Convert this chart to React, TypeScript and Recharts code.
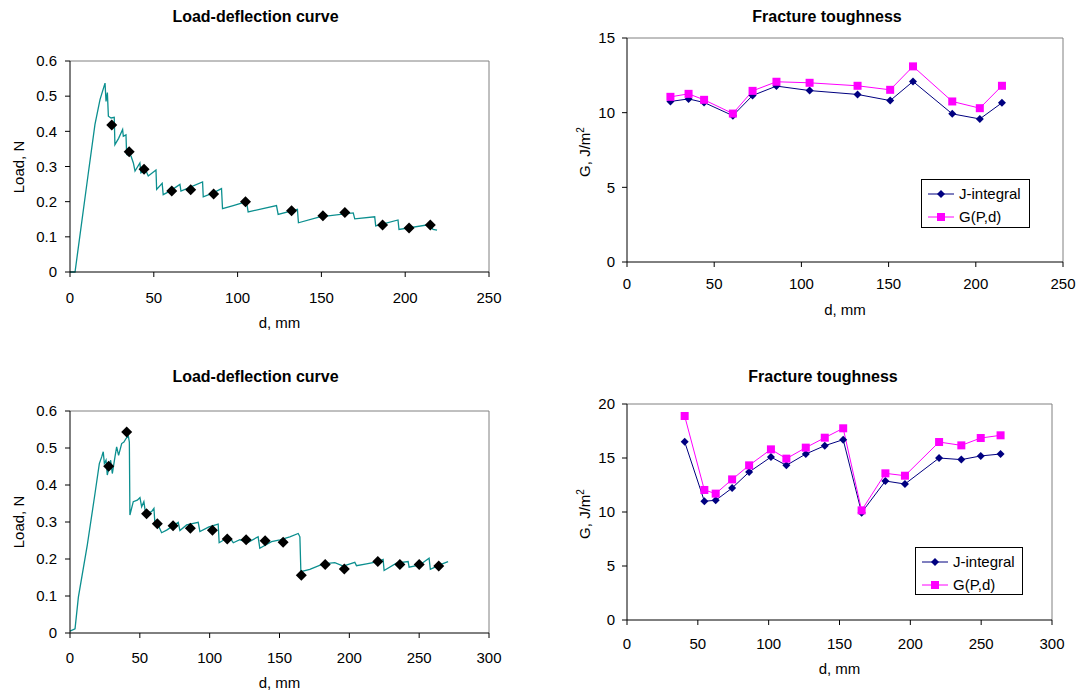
import React from 'react'
import { ComposedChart, LineChart, Line, Scatter, XAxis, YAxis, ReferenceLine, Legend } from 'recharts'

const FONT = '"Liberation Sans", Arial, Helvetica, sans-serif'
const TEAL = '#0B8F8F'
const NAVY = '#000080'
const MAGENTA = '#FF00FF'

// specimen 1: recorded load-deflection trace [d mm, load N]
const curve1: [number, number][] = [
  [0, 0], [3, 0], [10.9, 0.28], [14.9, 0.42], [17.9, 0.49], [20.9, 0.537], [21.5, 0.485],
  [22.3, 0.51], [22.9, 0.443], [24.5, 0.438], [26.4, 0.44], [26.8, 0.362], [29, 0.38],
  [31.4, 0.405], [31.8, 0.386], [33.4, 0.39], [33.8, 0.334], [36.4, 0.33], [37.8, 0.31],
  [38.8, 0.287], [41.7, 0.31], [42.3, 0.282], [45.1, 0.29], [46.7, 0.273], [51.3, 0.29],
  [51.7, 0.235], [55, 0.252], [55.6, 0.22], [59.6, 0.23], [65.6, 0.249], [66.2, 0.23],
  [79.1, 0.256], [79.5, 0.214], [85.5, 0.225], [90.4, 0.237], [91, 0.18], [97.4, 0.189],
  [105.3, 0.2], [106.3, 0.171], [123.2, 0.189], [124.2, 0.164], [135.7, 0.178], [136.3, 0.14],
  [149, 0.157], [169, 0.168], [169.9, 0.151], [181.8, 0.157], [182.4, 0.131], [195.7, 0.148],
  [196.3, 0.121], [214.6, 0.135], [216.6, 0.121], [219, 0.119],
]
const marks1D = [24.9, 35.3, 44.2, 60.7, 72, 85.7, 104.7, 132.2, 150.9, 164, 186.5, 202.3, 215]
const marks1Load = [0.418, 0.342, 0.292, 0.23, 0.234, 0.222, 0.2, 0.174, 0.16, 0.169, 0.134, 0.125, 0.134]
const jInt1 = [10.75, 10.92, 10.68, 9.8, 11.15, 11.78, 11.48, 11.22, 10.81, 12.09, 9.92, 9.58, 10.66]
const gPd1 = [11.06, 11.26, 10.86, 9.94, 11.46, 12.07, 12.0, 11.8, 11.53, 13.1, 10.75, 10.3, 11.8]

// specimen 2
const curve2: [number, number][] = [
  [0, 0.005], [3.6, 0.011], [6, 0.097], [12.4, 0.238], [17.9, 0.377], [21, 0.458], [22.7, 0.476],
  [23.8, 0.49], [24.6, 0.458], [25.8, 0.467], [26.7, 0.427], [29.1, 0.467], [30.3, 0.431],
  [32.2, 0.476], [33.4, 0.503], [34.8, 0.48], [37, 0.512], [38.6, 0.516], [40, 0.525],
  [41.7, 0.534], [42.5, 0.516], [42.9, 0.319], [45.3, 0.355], [48.2, 0.359], [50.1, 0.366],
  [51.3, 0.341], [52.9, 0.355], [54.1, 0.323], [58.4, 0.328], [60.1, 0.337], [60.8, 0.296],
  [63.2, 0.291], [65.6, 0.271], [69.2, 0.278], [77.5, 0.299], [78.7, 0.277], [83.5, 0.292],
  [91.8, 0.299], [93, 0.274], [99.5, 0.287], [106.1, 0.294], [106.8, 0.244], [114, 0.26],
  [116.9, 0.244], [121.6, 0.252], [127.6, 0.245], [134.7, 0.26], [135.9, 0.229], [144.3, 0.247],
  [150.3, 0.252], [157.4, 0.26], [163.4, 0.269], [164.6, 0.26], [165.3, 0.166], [171.7, 0.172],
  [181.3, 0.187], [189.6, 0.19], [195.6, 0.181], [203.9, 0.191], [205.1, 0.182], [212.3, 0.187],
  [220.6, 0.193], [224.2, 0.199], [224.9, 0.169], [233.7, 0.189], [242.1, 0.193], [242.8, 0.178],
  [250.4, 0.184], [257.1, 0.202], [258, 0.172], [264.7, 0.184], [270.7, 0.193],
]
const marks2D = [27.7, 40.6, 54.8, 62.5, 73.8, 86.2, 102, 112.6, 126.1, 139.7, 152.6, 165.6, 182.7, 196.4, 220.4, 236.2, 250, 264]
const marks2Load = [0.451, 0.543, 0.322, 0.295, 0.29, 0.283, 0.278, 0.254, 0.252, 0.249, 0.245, 0.156, 0.185, 0.173, 0.193, 0.185, 0.185, 0.181]
const jInt2 = [16.5, 11.0, 11.08, 12.22, 13.7, 15.09, 14.32, 15.37, 16.14, 16.7, 9.94, 12.87, 12.59, 15.0, 14.85, 15.19, 15.37]
const gPd2 = [18.89, 12.04, 11.7, 13.02, 14.32, 15.8, 14.94, 15.96, 16.88, 17.75, 10.15, 13.58, 13.36, 16.48, 16.17, 16.85, 17.1]
const tough2D = [40.7, 54.6, 62.6, 74.2, 86.2, 101.6, 112.5, 126.2, 139.6, 152.6, 165.6, 182.4, 196.2, 220.3, 236, 249.7, 263.7]

const seriesNames = ['J-integral', 'G(P,d)']
const loadTicks = [0, 0.1, 0.2, 0.3, 0.4, 0.5, 0.6]
const ticks250 = [0, 50, 100, 150, 200, 250]
const ticks300 = [0, 50, 100, 150, 200, 250, 300]
const gTicks15 = [0, 5, 10, 15]
const gTicks20 = [0, 5, 10, 15, 20]

const tickStyle = { fill: '#000', fontSize: 15, fontFamily: FONT }

function Diamond({ cx, cy, r, fill }: { cx: number; cy: number; r: number; fill: string }) {
  return <polygon points={`${cx},${cy - r} ${cx + r},${cy} ${cx},${cy + r} ${cx - r},${cy}`} fill={fill} />
}
function Square({ cx, cy, r, fill }: { cx: number; cy: number; r: number; fill: string }) {
  return <rect x={cx - r} y={cy - r} width={r * 2} height={r * 2} fill={fill} />
}

interface Geo {
  left: number; top: number; width: number; height: number
  plot: [number, number, number, number] // l, t, r, b inside the panel
  title: string; titleX: number
  yLabel: React.ReactNode; yLabelX: number
  xLabelY: number; xGap: number; yGap: number
}

function Panel({ g, children }: { g: Geo; children: React.ReactNode }) {
  const [l, t, r, b] = g.plot
  const txt: React.CSSProperties = { position: 'absolute', fontFamily: FONT, fontSize: 15, color: '#000', textAlign: 'center', whiteSpace: 'nowrap', lineHeight: '20px' }
  return (
    <div style={{ position: 'absolute', left: g.left, top: g.top, width: g.width, height: g.height }}>
      {children}
      <div style={{ ...txt, left: g.titleX - 150, width: 300, top: 7, fontSize: 16, fontWeight: 'bold' }}>{g.title}</div>
      <div style={{ ...txt, left: (l + r) / 2 - 100, width: 200, top: g.xLabelY - 10 }}>d, mm</div>
      <div style={{ ...txt, left: g.yLabelX - 100, width: 200, top: (t + b) / 2 - 10, transform: 'rotate(-90deg)' }}>{g.yLabel}</div>
    </div>
  )
}

function LoadPanel({ g, curve, markD, markL, xMax, xTicks }: { g: Geo; curve: [number, number][]; markD: number[]; markL: number[]; xMax: number; xTicks: number[] }) {
  const [l, t, r, b] = g.plot
  const line = curve.map(([d, load]) => ({ d, load }))
  const marks = markD.map((d, i) => ({ d, load: markL[i] }))
  return (
    <Panel g={g}>
      <ComposedChart width={g.width} height={g.height} margin={{ left: 0, top: t, right: g.width - r, bottom: g.height - b - 30 }}>
        <XAxis type="number" dataKey="d" domain={[0, xMax]} ticks={xTicks} height={30} stroke="#000" tick={tickStyle} tickSize={5} tickMargin={g.xGap} />
        <YAxis type="number" dataKey="load" domain={[0, 0.6]} ticks={loadTicks} width={l} stroke="#000" tick={tickStyle} tickSize={5} tickMargin={g.yGap} />
        <ReferenceLine y={0.6} stroke="#808080" />
        <ReferenceLine x={xMax} stroke="#808080" />
        <Line data={line} dataKey="load" type="linear" stroke={TEAL} strokeWidth={1.3} dot={false} isAnimationActive={false} />
        <Scatter data={marks} dataKey="load" fill="#000" isAnimationActive={false}
          shape={(p: any) => <Diamond cx={p.cx} cy={p.cy} r={5.5} fill="#000" />} />
      </ComposedChart>
    </Panel>
  )
}

function LegendBox({ payload, w, h }: any) {
  const items = [...(payload || [])].sort((a: any, b: any) => seriesNames.indexOf(a.value) - seriesNames.indexOf(b.value))
  return (
    <div style={{ width: w, height: h, boxSizing: 'border-box', border: '1px solid #000', background: '#fff', padding: '2px 0 0 5px', fontFamily: FONT, fontSize: 15 }}>
      {items.map((e: any) => (
        <div key={e.value} style={{ display: 'flex', alignItems: 'center', height: 23 }}>
          <svg width={28} height={12}>
            <line x1={1} y1={6} x2={27} y2={6} stroke={e.color} strokeWidth={1} />
            {e.value === seriesNames[0] ? <Diamond cx={14} cy={6} r={4} fill={e.color} /> : <Square cx={14} cy={6} r={4} fill={e.color} />}
          </svg>
          <span style={{ marginLeft: 4, color: '#000' }}>{e.value}</span>
        </div>
      ))}
    </div>
  )
}

function ToughPanel({ g, xs, j, gp, xMax, xTicks, yMax, yTicks, legendAt }: { g: Geo; xs: number[]; j: number[]; gp: number[]; xMax: number; xTicks: number[]; yMax: number; yTicks: number[]; legendAt: [number, number, number, number] }) {
  const [l, t, r, b] = g.plot
  const data = xs.map((d, i) => ({ d, J: j[i], G: gp[i] }))
  const [lx, ly, lw, lh] = legendAt
  return (
    <Panel g={g}>
      <LineChart width={g.width} height={g.height} data={data} margin={{ left: 0, top: t, right: g.width - r, bottom: g.height - b - 30 }}>
        <XAxis type="number" dataKey="d" domain={[0, xMax]} ticks={xTicks} height={30} stroke="#000" tick={tickStyle} tickSize={5} tickMargin={g.xGap} />
        <YAxis type="number" domain={[0, yMax]} ticks={yTicks} width={l} stroke="#000" tick={tickStyle} tickSize={5} tickMargin={g.yGap} />
        <ReferenceLine y={yMax} stroke="#808080" />
        <ReferenceLine x={xMax} stroke="#808080" />
        <Line dataKey="J" name={seriesNames[0]} type="linear" stroke={NAVY} strokeWidth={1} isAnimationActive={false}
          dot={(p: any) => <Diamond key={p.index} cx={p.cx} cy={p.cy} r={4} fill={NAVY} />} />
        <Line dataKey="G" name={seriesNames[1]} type="linear" stroke={MAGENTA} strokeWidth={1} isAnimationActive={false}
          dot={(p: any) => <Square key={p.index} cx={p.cx} cy={p.cy} r={4} fill={MAGENTA} />} />
        <Legend layout="vertical" align="center" verticalAlign="middle"
          wrapperStyle={{ left: lx, top: ly, width: lw, height: lh }}
          content={(p: any) => <LegendBox payload={p.payload} w={lw} h={lh} />} />
      </LineChart>
    </Panel>
  )
}

const geo1: Geo = { left: 0, top: 0, width: 540, height: 345, plot: [70, 61, 489, 272], title: 'Load-deflection curve', titleX: 255.5, yLabel: 'Load, N', yLabelX: 19, xLabelY: 323, xGap: 15, yGap: 8 }
const geo2: Geo = { left: 560, top: 0, width: 519, height: 345, plot: [67, 38, 503, 262], title: 'Fracture toughness', titleX: 267, yLabel: <span>G, J/m<sup style={{ fontSize: 10 }}>2</sup></span>, yLabelX: 23, xLabelY: 310, xGap: 11, yGap: 7 }
const geo3: Geo = { left: 0, top: 360, width: 540, height: 333, plot: [70, 51, 489, 273], title: 'Load-deflection curve', titleX: 255.5, yLabel: 'Load, N', yLabelX: 19, xLabelY: 323, xGap: 14, yGap: 8 }
const geo4: Geo = { left: 560, top: 360, width: 519, height: 333, plot: [67, 44, 492, 260], title: 'Fracture toughness', titleX: 263, yLabel: <span>G, J/m<sup style={{ fontSize: 10 }}>2</sup></span>, yLabelX: 23, xLabelY: 309, xGap: 13, yGap: 7 }

export default function App() {
  return (
    <div style={{ position: 'absolute', left: 0, top: 0, width: 1079, height: 693, background: '#fff' }}>
      <LoadPanel g={geo1} curve={curve1} markD={marks1D} markL={marks1Load} xMax={250} xTicks={ticks250} />
      <ToughPanel g={geo2} xs={marks1D} j={jInt1} gp={gPd1} xMax={250} xTicks={ticks250} yMax={15} yTicks={gTicks15} legendAt={[361, 179, 109, 49]} />
      <LoadPanel g={geo3} curve={curve2} markD={marks2D} markL={marks2Load} xMax={300} xTicks={ticks300} />
      <ToughPanel g={geo4} xs={tough2D} j={jInt2} gp={gPd2} xMax={300} xTicks={ticks300} yMax={20} yTicks={gTicks20} legendAt={[355, 187, 108, 48]} />
    </div>
  )
}
